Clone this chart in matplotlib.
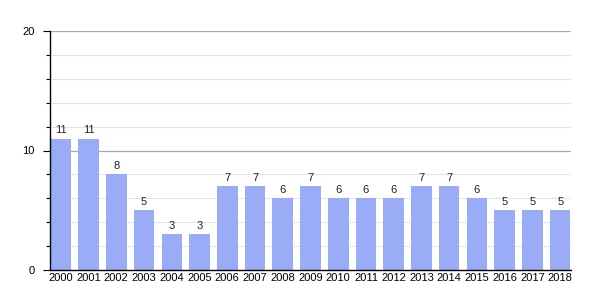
import matplotlib.pyplot as plt
import numpy as np

years = [str(y) for y in range(2000, 2019)]
values = [11, 11, 8, 5, 3, 3, 7, 7, 6, 7, 6, 6, 6, 7, 7, 6, 5, 5, 5]
y_ticks = [0, 10, 20]

plt.rcParams['font.family'] = ['Liberation Sans', 'DejaVu Sans']

fig = plt.figure(figsize=(6, 3), dpi=100)
ax = fig.add_axes([50 / 600, 30 / 300, 521 / 600, 239 / 300])

x = np.arange(len(years))
ax.bar(x, values, width=0.74, color='#9aacf7', zorder=2)
for xi, v in zip(x, values):
    ax.text(xi, v + 0.3, str(v), ha='center', va='bottom', fontsize=8, color='#222222')

ax.set_xlim(-0.39, len(years) - 1 + 0.39)
ax.set_ylim(0, 20)
ax.set_xticks(x)
ax.set_xticklabels(years, fontsize=8)
ax.set_yticks(y_ticks)
ax.set_yticklabels([str(t) for t in y_ticks], fontsize=8)
ax.set_yticks(np.arange(0, 21, 2), minor=True)

# light minor grid, darker major grid
for yv in np.arange(2, 20, 2):
    if yv % 10:
        ax.axhline(yv, color='#e4e4e4', lw=0.8, zorder=1)
for yv in [10, 20]:
    ax.axhline(yv, color='#a8a8a8', lw=0.9, zorder=1)

ax.tick_params(axis='x', length=0, pad=2)
ax.tick_params(axis='y', which='major', length=5, width=0.8, pad=6)
ax.tick_params(axis='y', which='minor', length=3, width=0.8)
for s in ['top', 'right']:
    ax.spines[s].set_visible(False)
ax.spines['left'].set_linewidth(1.0)
ax.spines['bottom'].set_linewidth(1.0)
ax.spines['bottom'].set_zorder(3)

fig.savefig('out.png', dpi=100)
